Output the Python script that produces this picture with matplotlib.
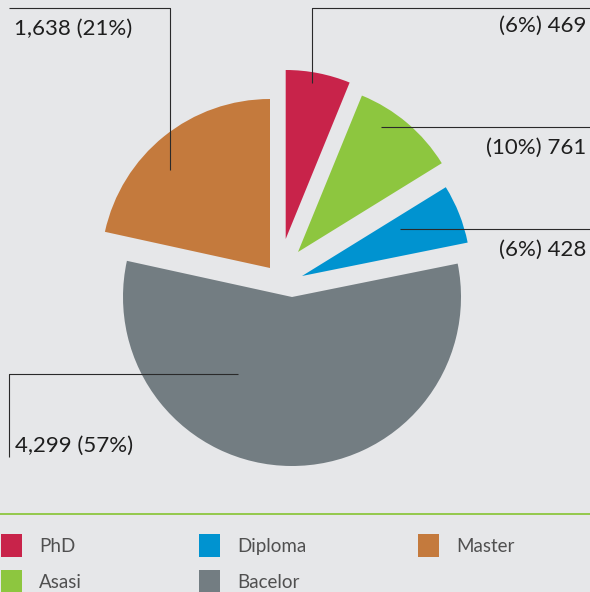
import matplotlib
matplotlib.use("Agg")
import matplotlib.pyplot as plt
from matplotlib.patches import Rectangle

# ---- data ----
categories = ["PhD", "Asasi", "Diploma", "Bacelor", "Master"]
values = [469, 761, 428, 4299, 1638]
percents = [6, 10, 6, 57, 21]

# ---- style ----
colors = ["#C8234A", "#8DC63F", "#0093D0", "#737D82", "#C47A3D"]
bg = "#E6E7E9"
W, H = 590, 592
FONT = ["Lato", "DejaVu Sans"]

fig = plt.figure(figsize=(W / 100, H / 100), dpi=100, facecolor=bg)
ax = fig.add_axes([0, 0, 1, 1])
ax.set_facecolor(bg)

def Y(y):  # image-row -> data y
    return H - y

base = (285, 310)
R = 169
# per-wedge displacement (style, like explode)
offsets = [(0.7, 43), (13, 30), (17, 6), (7, -15), (-15, 14)]

wedges, _ = ax.pie(values, colors=colors, startangle=90, counterclock=False,
                   radius=R, center=base, wedgeprops=dict(linewidth=0))
for w, (dx, dy) in zip(wedges, offsets):
    w.set_center((base[0] + dx, base[1] + dy))

ax.set_xlim(0, W)
ax.set_ylim(0, H)
ax.set_aspect("auto")
ax.axis("off")

# leader lines (image coords)
lc = "#2a2a2a"
leaders = [
    [(590, 8), (312, 8), (312, 83)],
    [(590, 127), (381, 127)],
    [(590, 229), (400, 229)],
    [(238, 374), (9, 374), (9, 457)],
    [(9, 8), (170, 8), (170, 170)],
]
for pts in leaders:
    ax.plot([p[0] for p in pts], [Y(p[1]) for p in pts], color=lc, lw=0.8,
            solid_capstyle="butt")

# labels
label_pos = [(586, 26, "right"), (586, 148, "right"), (586, 250, "right"),
             (15, 446, "left"), (14, 29, "left")]
for v, p, (x, y, ha) in zip(values, percents, label_pos):
    txt = f"({p}%) {v:,}" if ha == "right" else f"{v:,} ({p}%)"
    ax.text(x, Y(y), txt, ha=ha, va="center", fontsize=16, family=FONT,
            color="#1e1e1e")

# separator line
ax.plot([0, W], [Y(514), Y(514)], color="#8DC63F", lw=1.3)

# legend
col_x = [1, 199, 418]
row_y = [545.5, 581]
for i, (name, c) in enumerate(zip(categories, colors)):
    col, row = i // 2, i % 2
    x, y = col_x[col], row_y[row]
    ax.add_patch(Rectangle((x, Y(y) - 11.5), 21, 23, color=c, lw=0))
    ax.text(x + 38, Y(y + 1), name, ha="left", va="center", fontsize=13.5,
            family=FONT, color="#505050")

fig.savefig("out.png", dpi=100, facecolor=bg)
